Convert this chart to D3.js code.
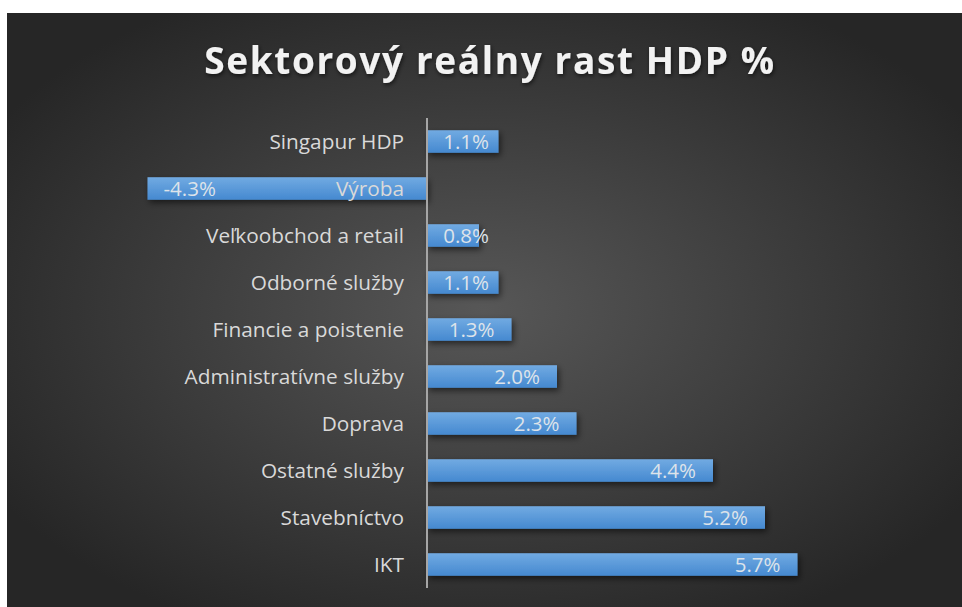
<!DOCTYPE html>
<html>
<meta charset="utf-8">
<script src="https://d3js.org/d3.v7.min.js"></script>
<style>
    body { margin: 0; background: #fff; }
    svg { display: block; }
</style>
<body>
<svg width="962" height="607"></svg>
<script>
    // data
    const categories = ["Singapur HDP", "Výroba", "Veľkoobchod a retail", "Odborné služby", "Financie a poistenie",
        "Administratívne služby", "Doprava", "Ostatné služby", "Stavebníctvo", "IKT"];
    const growth = [1.1, -4.3, 0.8, 1.1, 1.3, 2.0, 2.3, 4.4, 5.2, 5.7];
    const titleText = "Sektorový reálny rast HDP %";

    const data = categories.map((c, i) => ({ name: c, value: growth[i] }));

    let svg = d3.select("svg");
    const font = "'Open Sans', sans-serif";

    let defs = svg.append("defs");
    let bg = defs.append("radialGradient").attr("id", "bg")
        .attr("cx", "50%").attr("cy", "50%").attr("r", "60%");
    bg.append("stop").attr("offset", "0%").attr("stop-color", "#575757");
    bg.append("stop").attr("offset", "100%").attr("stop-color", "#262626");

    let barGrad = defs.append("linearGradient").attr("id", "bar")
        .attr("x1", 0).attr("y1", 0).attr("x2", 0).attr("y2", 1);
    barGrad.append("stop").attr("offset", "0%").attr("stop-color", "#71aae2");
    barGrad.append("stop").attr("offset", "100%").attr("stop-color", "#4589d0");

    let shadow = defs.append("filter").attr("id", "shadow")
        .attr("x", "-10%").attr("y", "-50%").attr("width", "130%").attr("height", "250%");
    shadow.append("feDropShadow").attr("dx", 2).attr("dy", 3).attr("stdDeviation", 3)
        .attr("flood-color", "#000").attr("flood-opacity", 0.55);

    let tshadow = defs.append("filter").attr("id", "tshadow");
    tshadow.append("feDropShadow").attr("dx", 1).attr("dy", 2).attr("stdDeviation", 2)
        .attr("flood-color", "#000").attr("flood-opacity", 0.6);

    // chart area
    svg.append("rect").attr("x", 7).attr("y", 13).attr("width", 955).attr("height", 594)
        .attr("fill", "url(#bg)");

    // title
    let title = svg.append("text")
        .attr("x", 490).attr("y", 74)
        .attr("text-anchor", "middle")
        .attr("font-family", font).attr("font-weight", "bold").attr("font-size", 37)
        .attr("fill", "#f2f2f2")
        .attr("filter", "url(#tshadow)")
        .text(titleText);
    // stretch letter spacing to match the wide title
    const tw = title.node().getComputedTextLength();
    title.attr("letter-spacing", ((570 - tw) / (titleText.length - 1)) + "px");

    let x = d3.scaleLinear().domain([-5, 7]).range([102, 882]);
    let y = d3.scaleBand().domain(categories).range([118, 588]).paddingInner(0.52).paddingOuter(0.26);

    // bars
    svg.append("g").selectAll("rect.bar")
        .data(data)
        .enter().append("rect")
        .attr("class", "bar")
        .attr("x", d => x(Math.min(0, d.value)))
        .attr("y", d => y(d.name))
        .attr("width", d => Math.abs(x(d.value) - x(0)))
        .attr("height", y.bandwidth())
        .attr("fill", "url(#bar)")
        .attr("filter", "url(#shadow)");

    // vertical axis line
    svg.append("line")
        .attr("x1", x(0)).attr("x2", x(0))
        .attr("y1", 118).attr("y2", 588)
        .attr("stroke", "#a6a6a6").attr("stroke-width", 2);

    // category labels next to axis
    svg.append("g").selectAll("text.cat")
        .data(data)
        .enter().append("text")
        .attr("class", "cat")
        .attr("x", x(0) - 23)
        .attr("y", d => y(d.name) + y.bandwidth() / 2)
        .attr("dy", "0.35em")
        .attr("text-anchor", "end")
        .attr("font-family", font).attr("font-size", 20.8)
        .attr("fill", "#d9d9d9")
        .text(d => d.name);

    // data labels, inside end
    svg.append("g").selectAll("text.val")
        .data(data)
        .enter().append("text")
        .attr("class", "val")
        .attr("x", d => d.value < 0 ? x(d.value) + 16 : Math.max(x(d.value) - 17, x(0) + 62))
        .attr("y", d => y(d.name) + y.bandwidth() / 2)
        .attr("dy", "0.35em")
        .attr("text-anchor", d => d.value < 0 ? "start" : "end")
        .attr("font-family", font).attr("font-size", 20.5)
        .attr("fill", "#dde3ea")
        .text(d => d.value.toFixed(1) + "%");
</script>
</body>
</html>
